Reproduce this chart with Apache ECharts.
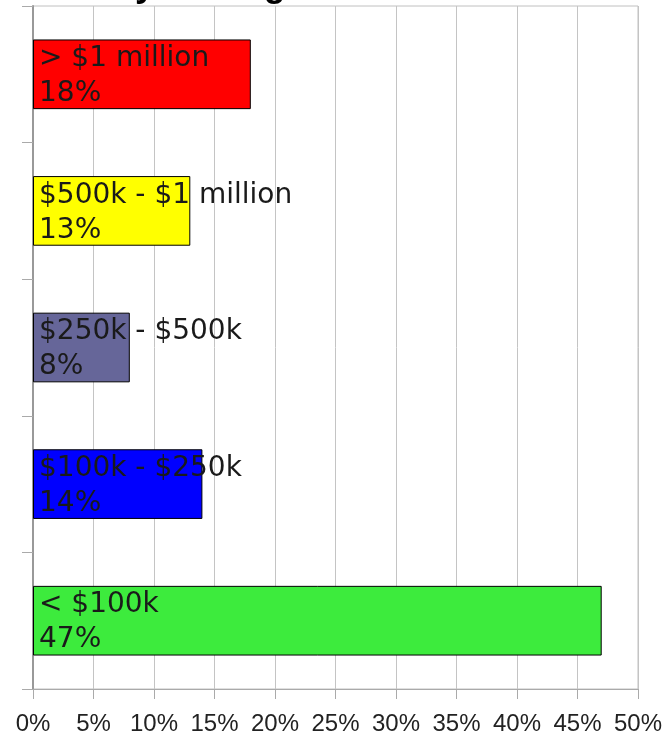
<!DOCTYPE html>
<html>
<head>
<meta charset="utf-8">
<script src="https://cdn.jsdelivr.net/npm/echarts@6/dist/echarts.min.js"></script>
<style>html,body{margin:0;padding:0;background:#fff}#c{width:662px;height:735px}</style>
</head>
<body>
<div id="c"></div>
<script>
var categories = ["> $1 million", "$500k - $1 million", "$250k - $500k", "$100k - $250k", "< $100k"];
var values = [18, 13, 8, 14, 47];
var barColors = ["#ff0000", "#ffff00", "#666699", "#0000ff", "#3deb3d"];
var xTicks = [0, 5, 10, 15, 20, 25, 30, 35, 40, 45, 50];
var titleText = "Firms by Average Revenue";

var chart = echarts.init(document.getElementById('c'), null, {renderer: 'canvas'});
chart.setOption({
  animation: false,
  backgroundColor: '#ffffff',
  title: {
    text: titleText,
    left: 0,
    top: -37,
    textStyle: {fontFamily: 'Liberation Sans', fontSize: 36, fontWeight: 'bold', color: '#000'}
  },
  grid: {left: 33, right: 24, top: 6, bottom: 46, show: true, borderColor: '#c0c0c0', borderWidth: 1, containLabel: false, outerBoundsMode: 'none'},
  xAxis: {
    type: 'value',
    min: xTicks[0],
    max: xTicks[xTicks.length - 1],
    interval: xTicks[1] - xTicks[0],
    axisLine: {show: true, lineStyle: {color: '#aaaaaa', width: 1}},
    axisTick: {show: true, length: 10, lineStyle: {color: '#aaaaaa'}},
    splitLine: {show: true, lineStyle: {color: '#c4c4c4', width: 1}},
    axisLabel: {formatter: '{value}%', fontFamily: 'Liberation Sans', fontSize: 24, color: '#222', margin: 23, hideOverlap: false}
  },
  yAxis: {
    type: 'category',
    inverse: true,
    data: categories,
    axisLine: {show: true, lineStyle: {color: '#999999', width: 2}},
    axisTick: {show: true, length: 11, alignWithLabel: false, lineStyle: {color: '#aaaaaa'}},
    axisLabel: {show: false},
    splitLine: {show: false}
  },
  series: [{
    type: 'bar',
    barWidth: '51%',
    data: values.map(function (v, i) {
      return {value: v, itemStyle: {color: barColors[i]}};
    }),
    itemStyle: {borderColor: '#000', borderWidth: 1},
    label: {
      show: true,
      position: 'insideLeft',
      distance: 6,
      offset: [0, 2],
      formatter: '{b}\n{c}%',
      fontFamily: 'DejaVu Sans',
      fontSize: 28,
      lineHeight: 35,
      color: '#1a1a1a'
    }
  }]
});
</script>
</body>
</html>
